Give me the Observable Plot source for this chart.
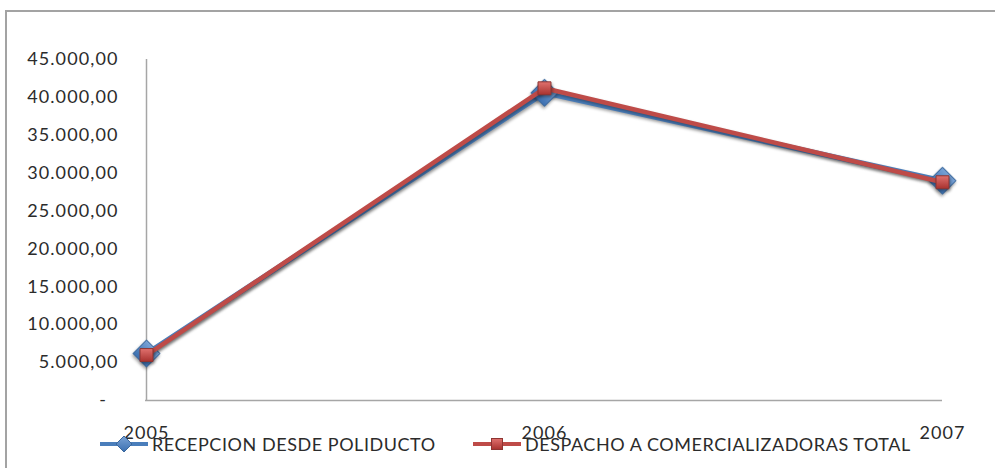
<!DOCTYPE html>
<html>
<head>
<meta charset="utf-8">
<script src="https://cdn.jsdelivr.net/npm/d3@7"></script>
<script src="https://cdn.jsdelivr.net/npm/@observablehq/plot@0.6"></script>
<style>
  html, body { margin: 0; padding: 0; background: #fff; }
  #wrap { position: relative; width: 995px; height: 468px; overflow: hidden; font-family: Lato, "Open Sans", sans-serif; }
  #frame { position: absolute; left: 5px; top: 10px; width: 1100px; height: 600px;
           border-left: 2px solid #a3a3a3; border-top: 2px solid #a3a3a3; box-sizing: border-box; }
  #chart { position: absolute; left: 0; top: 0; }
  #chart g[aria-label="y-axis tick label"] text,
  #chart g[aria-label="x-axis tick label"] text { letter-spacing: 1.1px; }
  #chart g[aria-label="line"] path { filter: drop-shadow(1px 2px 1.5px rgba(0,0,0,0.35)); }
  #chart g[aria-label="dot"] path { filter: drop-shadow(1px 2px 1.5px rgba(0,0,0,0.35)); }
  .legend { position: absolute; top: 433px; display: flex; align-items: center; font-size: 18px; letter-spacing: 0.55px; color: #2b2b2b; }
  .legend svg { display: block; margin-right: 4px; }
</style>
</head>
<body>
<div id="wrap">
  <div id="frame"></div>
  <div id="chart"></div>
  <div id="legend"></div>
</div>
<script>
// Years on the horizontal axis
const years = ["2005", "2006", "2007"];
// Series names
const seriesNames = ["RECEPCION DESDE POLIDUCTO", "DESPACHO A COMERCIALIZADORAS TOTAL"];
// Volumes per year
const recepcion = [6200, 40600, 29000];
const despacho = [6000, 41200, 28800];
// Y-axis ticks
const yTicks = [0, 5000, 10000, 15000, 20000, 25000, 30000, 35000, 40000, 45000];

const blue = "#4a7ebb", red = "#be4b48";

const rows = years.flatMap((y, i) => [
  {year: y, value: recepcion[i], serie: seriesNames[0]},
  {year: y, value: despacho[i], serie: seriesNames[1]}
]);
const rowsA = rows.filter(d => d.serie === seriesNames[0]);
const rowsB = rows.filter(d => d.serie === seriesNames[1]);

const es = d3.formatLocale({decimal: ",", thousands: ".", grouping: [3], currency: ["", ""]});
const fmt = es.format(",.2f");
const tickFmt = v => v === 0 ? "-\u00a0\u00a0" : fmt(v);

const chart = Plot.plot({
  width: 995,
  height: 468,
  marginLeft: 145,
  marginRight: 53,
  marginTop: 59,
  marginBottom: 68,
  style: {fontFamily: "Lato, 'Open Sans', sans-serif", fontSize: "18px", color: "#2b2b2b", background: "transparent"},
  x: {type: "point", domain: years, padding: 0, label: null, tickSize: 0, tickPadding: 26},
  y: {domain: [0, 45000], ticks: yTicks, tickFormat: tickFmt, label: null, tickSize: 0, tickPadding: 27},
  marks: [
    Plot.ruleX([years[0]], {stroke: "#a6a6a6", strokeWidth: 1.5}),
    Plot.ruleY([0], {stroke: "#a6a6a6", strokeWidth: 1.5}),
    Plot.line(rowsA, {x: "year", y: "value", stroke: blue, strokeWidth: 5}),
    Plot.dot(rowsA, {x: "year", y: "value", symbol: "square", rotate: 45, r: 10.8, fill: "url(#gBlue)", stroke: "#3a679c", strokeWidth: 1}),
    Plot.line(rowsB, {x: "year", y: "value", stroke: red, strokeWidth: 4.5}),
    Plot.dot(rowsB, {x: "year", y: "value", symbol: "square", r: 7.3, fill: "url(#gRed)", stroke: "#8e3532", strokeWidth: 1})
  ]
});

// Marker gradients
const svg = d3.select(chart);
const defs = svg.insert("defs", ":first-child");
const gb = defs.append("linearGradient").attr("id", "gBlue").attr("x1", 0).attr("y1", 0).attr("x2", 0).attr("y2", 1);
gb.append("stop").attr("offset", "0%").attr("stop-color", "#7aa3d6");
gb.append("stop").attr("offset", "100%").attr("stop-color", "#3b6fb0");
const gr = defs.append("linearGradient").attr("id", "gRed").attr("x1", 0).attr("y1", 0).attr("x2", 0).attr("y2", 1);
gr.append("stop").attr("offset", "0%").attr("stop-color", "#e0716e");
gr.append("stop").attr("offset", "100%").attr("stop-color", "#a8322f");

document.getElementById("chart").appendChild(chart);

// Legend
const legend = document.getElementById("legend");
const items = [
  {name: seriesNames[0], color: blue, marker: "diamond", left: 100},
  {name: seriesNames[1], color: red, marker: "square", left: 473}
];
for (const it of items) {
  const div = document.createElement("div");
  div.className = "legend";
  div.style.left = it.left + "px";
  const w = 48;
  const mk = it.marker === "diamond"
    ? `<path d="M${w/2},3 L${w/2+8},11 L${w/2},19 L${w/2-8},11Z" fill="url(#lgB)" stroke="#3a679c"/>`
    : `<rect x="${w/2-5.5}" y="5.5" width="11" height="11" fill="url(#lgR)" stroke="#8e3532"/>`;
  div.innerHTML = `<svg width="${w}" height="22">
    <defs>
      <linearGradient id="lgB" x1="0" y1="0" x2="0" y2="1"><stop offset="0" stop-color="#7aa3d6"/><stop offset="1" stop-color="#3b6fb0"/></linearGradient>
      <linearGradient id="lgR" x1="0" y1="0" x2="0" y2="1"><stop offset="0" stop-color="#e0716e"/><stop offset="1" stop-color="#a8322f"/></linearGradient>
    </defs>
    <line x1="0" x2="${w}" y1="11" y2="11" stroke="${it.color}" stroke-width="4"/>${mk}</svg><span>${it.name}</span>`;
  legend.appendChild(div);
}
</script>
</body>
</html>
